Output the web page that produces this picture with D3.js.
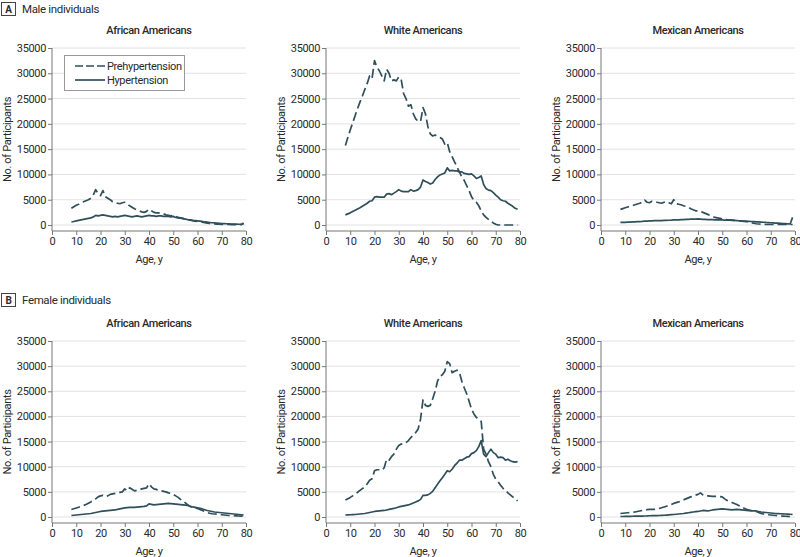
<!DOCTYPE html>
<html>
<head>
<meta charset="utf-8">
<script src="https://cdn.jsdelivr.net/npm/d3@7"></script>
<style>
  html, body { margin: 0; padding: 0; background: #fff; }
  svg { display: block; }
  text { font-family: Roboto, "Open Sans", sans-serif; fill: #2a2a2a; letter-spacing: -0.35px; }
</style>
</head>
<body>
<svg id="chart" width="800" height="557"></svg>
<script>
// ---- Data ----
const ages = [8,9,10,11,12,13,14,15,16,17,18,19,20,21,22,23,24,25,26,27,28,29,30,31,32,33,34,35,36,37,38,39,40,41,42,43,44,45,46,47,48,49,50,51,52,53,54,55,56,57,58,59,60,61,62,63,64,65,66,67,68,69,70,71,72,73,74,75,76,77,78,79];

const maleAfricanPre = [3300,3600,3900,4100,4400,4600,4800,5000,5300,5900,
  7000,6200,5800,6800,5600,5300,5000,4600,4400,4300,
  4200,4400,4500,4200,3800,3500,3200,3000,2800,2600,
  2500,2700,3100,2800,2500,2400,2400,2300,2200,2000,
  1900,1800,1900,1700,1500,1400,1300,1150,1000,950,
  850,750,700,650,550,450,350,300,250,200,
  180,150,130,120,110,100,90,80,70,60,
  60,400];
const maleAfricanHyp = [600,700,800,900,1000,1100,1200,1300,1400,1600,
  1900,1800,1900,2000,1900,1800,1700,1600,1700,1600,
  1700,1800,1900,1800,1700,1600,1700,1800,1700,1600,
  1700,1800,1900,1800,1800,1700,1800,1800,1700,1700,
  1700,1600,1700,1500,1400,1350,1250,1150,1050,1000,
  900,850,800,750,700,600,550,500,450,420,
  380,350,300,280,250,230,200,180,160,150,
  150,200];
const maleWhitePre = [15700,17300,18800,20200,21600,23000,24300,25500,26800,28000,
  29500,29000,32500,31200,30500,29500,28500,30800,30000,28500,
  28700,28500,29300,28800,26000,25000,23500,23800,22000,21000,
  20500,20500,23200,22000,19500,18000,17600,17800,17500,17300,
  17000,16000,16300,14500,13500,12500,11500,10500,9500,8800,
  7800,6800,5600,4900,4500,3800,2800,2000,1500,1100,
  700,400,150,0,0,0,0,0,0,0,
  0,0];
const maleWhiteHyp = [2000,2200,2400,2650,2900,3150,3400,3700,4000,4300,
  4700,4800,5500,5600,5500,5500,5500,6100,6200,6000,
  6300,6600,7000,6700,6600,6600,6600,7000,6700,6800,
  7000,7500,8900,8600,8400,8100,8300,9000,9500,9900,
  10100,10300,11300,10700,10800,10700,10700,10500,10500,10200,
  10100,10000,10100,9700,9200,9400,9700,8000,7200,6900,
  6800,6400,5900,5500,5000,4800,4700,4300,4000,3700,
  3300,3100];
const maleMexicanPre = [3100,3250,3400,3550,3700,3850,4000,4150,4300,4500,
  4900,4500,4400,4700,4600,4500,4400,4300,4500,4600,
  4400,4200,5000,4200,4100,4000,3800,3700,3500,3200,
  3000,2800,2800,2700,2500,2300,2100,1900,1700,1500,
  1400,1300,1200,1100,1000,1000,950,900,850,800,
  750,700,650,550,450,350,250,200,150,120,
  100,100,100,100,100,100,100,100,100,100,
  100,100];
const maleMexicanHyp = [500,510,530,550,580,600,620,650,670,700,
  750,770,800,820,850,860,870,880,900,920,
  940,960,1000,1000,1020,1050,1080,1100,1120,1150,
  1150,1180,1200,1150,1100,1100,1080,1050,1050,1030,
  1020,1010,1000,980,960,940,920,900,870,840,
  800,780,750,720,690,660,630,600,570,540,
  500,480,450,420,390,360,330,300,270,240,
  200,1500];
const femaleAfricanPre = [1500,1650,1800,1950,2100,2300,2500,2750,3000,3300,
  3600,4000,4200,4300,4100,4200,4500,4600,4700,4800,
  4900,5000,5600,5200,5800,5500,5200,5300,5400,5600,
  5700,5800,6600,6000,5600,5500,5300,5200,5100,5000,
  4800,4700,4500,4200,3900,3500,3200,2800,2400,2100,
  1900,1800,1700,1500,1300,1100,900,750,650,600,
  550,500,450,400,350,300,280,250,220,200,
  180,150];
const femaleAfricanHyp = [300,350,400,450,500,550,600,650,700,800,
  900,1000,1100,1150,1200,1250,1300,1350,1400,1500,
  1600,1700,1800,1850,1900,1900,1900,1950,2000,2050,
  2100,2200,2600,2500,2400,2450,2500,2550,2600,2650,
  2700,2650,2600,2550,2500,2450,2400,2350,2300,2150,
  2000,1900,1800,1700,1600,1450,1300,1200,1100,1000,
  950,900,850,800,750,700,650,600,550,500,
  450,400];
const femaleWhitePre = [3400,3650,3900,4200,4500,4900,5300,5650,6000,6600,
  7300,7600,9200,9400,9400,9300,9800,11500,11300,12000,
  12500,13500,14200,14500,14600,14800,15200,15800,16300,16800,
  17500,19500,23300,22200,22000,22200,23500,25000,27000,28000,
  28300,29000,30900,30500,28700,29000,29200,28800,27000,25700,
  24500,23000,21500,20500,19800,19400,19000,13500,12500,11000,
  10000,8500,7500,7000,6300,5700,5300,4800,4400,4000,
  3600,3200];
const femaleWhiteHyp = [400,420,450,480,500,550,600,650,700,800,
  900,1000,1100,1150,1200,1250,1300,1400,1500,1600,
  1700,1850,2000,2100,2200,2300,2400,2600,2800,3000,
  3200,3500,4300,4300,4400,4700,5100,5800,6500,7200,
  7800,8500,9200,9000,9500,10200,10700,11300,11300,11600,
  11900,12000,12600,12800,13200,14000,15200,12500,12000,12800,
  13500,12800,12500,11800,11900,11800,11300,11500,11200,11000,
  10900,11000];
const femaleMexicanPre = [700,750,800,850,900,950,1000,1100,1200,1300,
  1400,1450,1500,1500,1500,1600,1700,1850,2000,2150,
  2300,2500,2700,2850,3000,3200,3400,3600,3800,4000,
  4200,4350,4500,4800,4400,4200,4200,4150,4100,4100,
  4100,4050,4000,3600,3300,3100,2900,2700,2500,2250,
  2000,1750,1500,1400,1300,1200,1100,900,700,600,
  500,450,400,350,300,250,200,180,150,120,
  100,100];
const femaleMexicanHyp = [100,100,120,130,140,150,160,170,180,190,
  200,210,250,260,270,290,300,320,350,380,
  420,460,500,550,600,650,700,780,850,920,
  1000,1050,1100,1200,1300,1250,1200,1300,1400,1450,
  1500,1550,1600,1550,1500,1450,1400,1450,1500,1450,
  1400,1350,1300,1250,1200,1200,1200,1100,1000,950,
  900,850,800,750,700,680,650,620,600,580,
  550,500];

const groupTitles = ["African Americans", "White Americans", "Mexican Americans"];
const sexTitles = ["Male individuals", "Female individuals"];
const panelLetters = ["A", "B"];
const seriesNames = ["Prehypertension", "Hypertension"];
const yTicks = [0, 5000, 10000, 15000, 20000, 25000, 30000, 35000];
const xTicks = [0, 10, 20, 30, 40, 50, 60, 70, 80];

const panelData = [
  [[maleAfricanPre, maleAfricanHyp], [maleWhitePre, maleWhiteHyp], [maleMexicanPre, maleMexicanHyp]],
  [[femaleAfricanPre, femaleAfricanHyp], [femaleWhitePre, femaleWhiteHyp], [femaleMexicanPre, femaleMexicanHyp]]
];

// ---- Layout ----
const color = "#2f4f5b";
const colLeft = [52, 326, 601];
const plotW = 194;
const rowTop = [48, 341];
const rowZero = [225, 517];
const axisGap = 6;
const dash = "9,4";
const fs = 11;

const svg = d3.select("#chart");

function drawPanel(r, c) {
  const x = d3.scaleLinear().domain([0, 80]).range([colLeft[c], colLeft[c] + plotW]);
  const y = d3.scaleLinear().domain([0, 35000]).range([rowZero[r], rowTop[r]]);
  const g = svg.append("g");
  const axisY = rowZero[r] + axisGap;

  // gridlines
  g.selectAll("line.grid").data(yTicks).join("line")
    .attr("x1", x(0)).attr("x2", x(80))
    .attr("y1", d => y(d)).attr("y2", d => y(d))
    .attr("stroke", "#e2e2e2").attr("stroke-width", 1);

  // y axis
  const ya = g.append("g").attr("transform", `translate(${x(0)},0)`)
    .call(d3.axisLeft(y).tickValues(yTicks).tickSize(4).tickPadding(2).tickFormat(d3.format("d")));
  ya.select(".domain").remove();
  ya.selectAll(".tick line").attr("stroke", "#777");
  ya.selectAll(".tick text").attr("font-size", fs).attr("font-family", "Roboto, sans-serif").attr("fill", "#2a2a2a");
  g.append("line").attr("x1", x(0)).attr("x2", x(0)).attr("y1", y(35000)).attr("y2", axisY)
    .attr("stroke", "#777").attr("stroke-width", 1);

  // x axis
  const xa = g.append("g").attr("transform", `translate(0,${axisY})`)
    .call(d3.axisBottom(x).tickValues(xTicks).tickSize(4).tickPadding(2));
  xa.select(".domain").remove();
  xa.selectAll(".tick line").attr("stroke", "#777");
  xa.selectAll(".tick text").attr("font-size", fs).attr("font-family", "Roboto, sans-serif").attr("fill", "#2a2a2a");
  g.append("line").attr("x1", x(0)).attr("x2", x(80)).attr("y1", axisY).attr("y2", axisY)
    .attr("stroke", "#777").attr("stroke-width", 1);

  // titles
  g.append("text").attr("x", (x(0) + x(80)) / 2).attr("y", rowTop[r] - 14)
    .attr("text-anchor", "middle").attr("font-size", 11).attr("font-weight", 500)
    .attr("fill", "#1e1e1e").text(groupTitles[c]);
  g.append("text").attr("x", (x(0) + x(80)) / 2).attr("y", axisY + 32)
    .attr("text-anchor", "middle").attr("font-size", fs).text("Age, y");
  g.append("text")
    .attr("transform", `translate(${x(0) - 41},${(y(35000) + axisY) / 2}) rotate(-90)`)
    .attr("text-anchor", "middle").attr("font-size", fs).text("No. of Participants");

  // lines
  const line = d3.line().x((d, i) => x(ages[i])).y(d => y(d));
  const [pre, hyp] = panelData[r][c];
  g.append("path").datum(hyp).attr("d", line).attr("fill", "none")
    .attr("stroke", color).attr("stroke-width", 1.7).attr("stroke-linejoin", "round");
  g.append("path").datum(pre).attr("d", line).attr("fill", "none")
    .attr("stroke", color).attr("stroke-width", 1.7).attr("stroke-dasharray", dash)
    .attr("stroke-linejoin", "round");

  if (r === 0 && c === 0) {
    const lg = g.append("g");
    lg.append("rect").attr("x", 64.5).attr("y", 55.5).attr("width", 120).attr("height", 35)
      .attr("fill", "#fff").attr("stroke", "#999");
    lg.append("line").attr("x1", 75).attr("x2", 105).attr("y1", 66).attr("y2", 66)
      .attr("stroke", color).attr("stroke-width", 1.7).attr("stroke-dasharray", "8,3");
    lg.append("line").attr("x1", 75).attr("x2", 105).attr("y1", 80).attr("y2", 80)
      .attr("stroke", color).attr("stroke-width", 1.7);
    lg.append("text").attr("x", 107).attr("y", 69.5).attr("font-size", fs).text(seriesNames[0]);
    lg.append("text").attr("x", 107).attr("y", 83.5).attr("font-size", fs).text(seriesNames[1]);
  }
}

// panel headers
const headerY = [2, 293];
headerY.forEach((hy, r) => {
  svg.append("rect").attr("x", 1.5).attr("y", hy + 0.5).attr("width", 14).attr("height", 13)
    .attr("fill", "#fff").attr("stroke", "#444");
  svg.append("text").attr("x", 8.5).attr("y", hy + 10.5).attr("text-anchor", "middle")
    .attr("font-size", 10).attr("font-weight", 700).attr("fill", "#222").text(panelLetters[r]);
  svg.append("text").attr("x", 22).attr("y", hy + 11).attr("font-size", 11.5)
    .attr("fill", "#222").text(sexTitles[r]);
});

for (let r = 0; r < 2; r++) for (let c = 0; c < 3; c++) drawPanel(r, c);
</script>
</body>
</html>
